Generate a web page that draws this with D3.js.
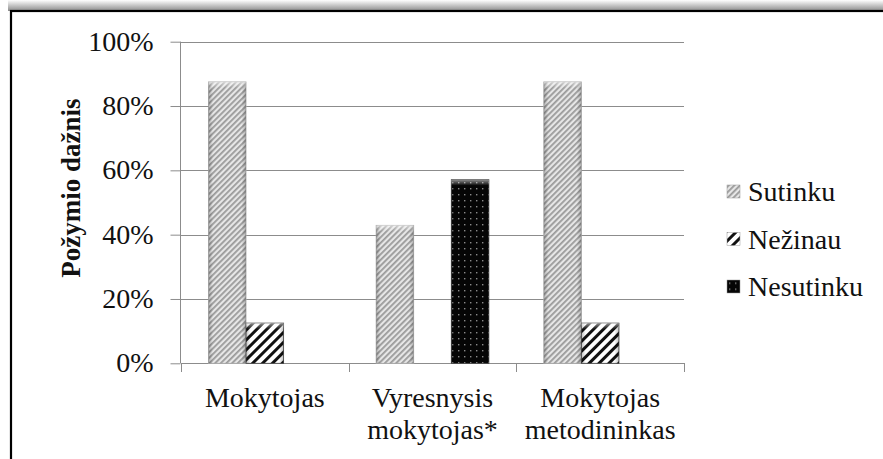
<!DOCTYPE html>
<html>
<head>
<meta charset="utf-8">
<script src="https://cdn.jsdelivr.net/npm/d3@7"></script>
</head>
<body style="margin:0;padding:0;background:#fff;font-family:'Liberation Serif',serif">
<svg id="chart" width="883" height="459" font-family="Liberation Serif" style="display:block;font-family:'Liberation Serif',serif"></svg>
<script>
const categories = [["Mokytojas"], ["Vyresnysis", "mokytojas*"], ["Mokytojas", "metodininkas"]];
const seriesNames = ["Sutinku", "Nežinau", "Nesutinku"];
const sutinku   = [0.875, 0.429, 0.875];
const nezinau   = [0.125, 0.0, 0.125];
const nesutinku = [0.0, 0.571, 0.0];
const yTicks = [0, 0.2, 0.4, 0.6, 0.8, 1.0];
const yTitle = "Požymio dažnis";

const FONT = "Liberation Serif";
const TXT = "#111";
const seriesValues = [sutinku, nezinau, nesutinku];
const svg = d3.select("#chart");
const defs = svg.append("defs");

function serif(sel, size) {
  return sel.attr("font-family", FONT).style("font-family", FONT)
    .attr("font-size", size).style("font-size", size + "px");
}

// frame shadow
const sg = defs.append("linearGradient").attr("id", "topShadow").attr("x1", 0).attr("y1", 0).attr("x2", 0).attr("y2", 1);
sg.append("stop").attr("offset", "0%").attr("stop-color", "#fff");
sg.append("stop").attr("offset", "100%").attr("stop-color", "#8a8a8a");
svg.append("rect").attr("x", 8).attr("y", 0).attr("width", 875).attr("height", 11).attr("fill", "url(#topShadow)");
svg.append("rect").attr("x", 11).attr("y", 11).attr("width", 880).attr("height", 460)
  .attr("fill", "#fff").attr("stroke", "#000").attr("stroke-width", 2.2);

// patterns
const p0 = defs.append("pattern").attr("id", "pat0").attr("patternUnits", "userSpaceOnUse")
  .attr("width", 4).attr("height", 4).attr("patternTransform", "rotate(45)");
p0.append("rect").attr("width", 4).attr("height", 4).attr("fill", "#e6e6e6");
p0.append("rect").attr("width", 1.8).attr("height", 4).attr("fill", "#9a9a9a");

const p1 = defs.append("pattern").attr("id", "pat1").attr("patternUnits", "userSpaceOnUse")
  .attr("width", 7).attr("height", 7).attr("patternTransform", "rotate(45)");
p1.append("rect").attr("width", 7).attr("height", 7).attr("fill", "#fff");
p1.append("rect").attr("width", 3).attr("height", 7).attr("fill", "#111");

const p2 = defs.append("pattern").attr("id", "pat2").attr("patternUnits", "userSpaceOnUse")
  .attr("width", 6).attr("height", 6);
p2.append("rect").attr("width", 6).attr("height", 6).attr("fill", "#050505");
p2.append("rect").attr("x", 2).attr("y", 2).attr("width", 1.4).attr("height", 1.4).attr("fill", "#8a8a8a");

// bevel gradients
const hg = defs.append("linearGradient").attr("id", "sideShade").attr("x1", 0).attr("y1", 0).attr("x2", 1).attr("y2", 0);
hg.append("stop").attr("offset", "0%").attr("stop-color", "#000").attr("stop-opacity", 0.25);
hg.append("stop").attr("offset", "12%").attr("stop-color", "#000").attr("stop-opacity", 0);
hg.append("stop").attr("offset", "88%").attr("stop-color", "#000").attr("stop-opacity", 0);
hg.append("stop").attr("offset", "100%").attr("stop-color", "#000").attr("stop-opacity", 0.25);
const tg = defs.append("linearGradient").attr("id", "topShade").attr("x1", 0).attr("y1", 0).attr("x2", 0).attr("y2", 1);
tg.append("stop").attr("offset", "0%").attr("stop-color", "#fff").attr("stop-opacity", 0.55);
tg.append("stop").attr("offset", "100%").attr("stop-color", "#fff").attr("stop-opacity", 0);

const fills = ["url(#pat0)", "url(#pat1)", "url(#pat2)"];

const x0 = d3.scaleBand().domain(d3.range(categories.length)).range([181, 684]).padding(0);
const x1 = d3.scaleBand().domain(d3.range(seriesNames.length)).range([0, x0.bandwidth()]).paddingInner(0).paddingOuter(0.73);
const y = d3.scaleLinear().domain([0, 1]).range([363.3, 41.7]);

// gridlines
svg.append("g").selectAll("line").data(yTicks).join("line")
  .attr("x1", 181).attr("x2", 684)
  .attr("y1", d => Math.round(y(d)) + 0.5).attr("y2", d => Math.round(y(d)) + 0.5)
  .attr("stroke", "#8c8c8c").attr("stroke-width", 1);

// y axis
const yAxis = d3.axisLeft(y).tickValues(yTicks).tickFormat(d => Math.round(d * 100) + "%").tickSize(10).tickPadding(17);
const gy = svg.append("g").attr("transform", "translate(180.5,0)").call(yAxis);
serif(gy, 28);
gy.select(".domain").attr("stroke", "#8c8c8c").attr("d", `M0,${y(1)}V${y(0)}`);
gy.selectAll(".tick line").attr("stroke", "#8c8c8c");
serif(gy.selectAll(".tick text"), 28).attr("fill", TXT).attr("dy", "0.3em");

// x axis ticks
const xTickPos = d3.range(categories.length + 1).map(i => i < categories.length ? x0(i) : x0(i - 1) + x0.bandwidth());
svg.append("line").attr("x1", 181).attr("x2", 684).attr("y1", 363.5).attr("y2", 363.5).attr("stroke", "#8c8c8c");
svg.append("g").selectAll("line").data(xTickPos).join("line")
  .attr("x1", d => Math.round(d) + 0.5).attr("x2", d => Math.round(d) + 0.5)
  .attr("y1", 363).attr("y2", 372).attr("stroke", "#8c8c8c");

// bars
const barData = [];
categories.forEach((c, ci) => seriesValues.forEach((vals, si) => {
  if (vals[ci] > 0) barData.push({ ci, si, v: vals[ci] });
}));
const bars = svg.append("g").selectAll("g").data(barData).join("g");
bars.append("rect")
  .attr("x", d => x0(d.ci) + x1(d.si)).attr("width", x1.bandwidth())
  .attr("y", d => y(d.v)).attr("height", d => y(0) - y(d.v))
  .attr("fill", d => fills[d.si]).attr("stroke", d => d.si === 0 ? "#b0b0b0" : "#444").attr("stroke-width", 0.8);
bars.append("rect")
  .attr("x", d => x0(d.ci) + x1(d.si)).attr("width", x1.bandwidth())
  .attr("y", d => y(d.v)).attr("height", d => y(0) - y(d.v))
  .attr("fill", "url(#sideShade)");
bars.append("rect")
  .attr("x", d => x0(d.ci) + x1(d.si)).attr("width", x1.bandwidth())
  .attr("y", d => y(d.v)).attr("height", 6)
  .attr("fill", "url(#topShade)");

// category labels (one text per line)
const catLines = [];
categories.forEach((lines, ci) => lines.forEach((t, li) => catLines.push({ ci, li, t })));
serif(svg.append("g").selectAll("text").data(catLines).join("text"), 28)
  .attr("text-anchor", "middle").attr("fill", TXT)
  .attr("x", d => x0(d.ci) + x0.bandwidth() / 2)
  .attr("y", d => 406.5 + d.li * 32.5)
  .text(d => d.t);

// y title
serif(svg.append("text"), 27)
  .attr("transform", "translate(80,188) rotate(-90)")
  .attr("text-anchor", "middle").attr("font-weight", "bold").style("font-weight", "bold")
  .attr("fill", TXT)
  .text(yTitle);

// legend
const legY = [191.5, 239, 286.5];
const leg = svg.append("g").selectAll("g").data(seriesNames).join("g")
  .attr("transform", (d, i) => `translate(727,${legY[i]})`);
leg.append("rect").attr("x", 0).attr("y", -6.5).attr("width", 13).attr("height", 13)
  .attr("fill", (d, i) => fills[i]).attr("stroke", "#999").attr("stroke-width", 0.5);
serif(leg.append("text"), 28).attr("x", 21).attr("y", 9.5)
  .attr("fill", TXT).text(d => d);
</script>
</body>
</html>
